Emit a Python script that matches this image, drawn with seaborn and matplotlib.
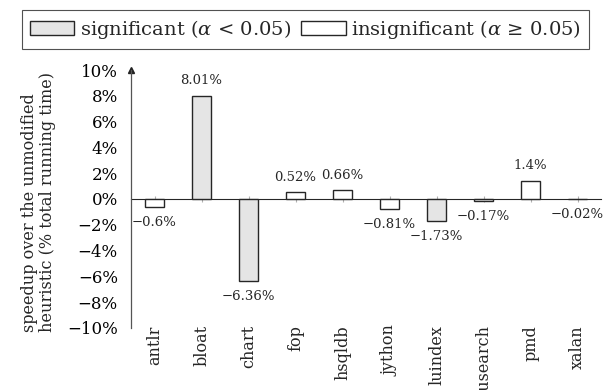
import matplotlib
matplotlib.use("Agg")
import matplotlib.pyplot as plt
import seaborn as sns
import pandas as pd

benchmarks = ["antlr", "bloat", "chart", "fop", "hsqldb", "jython", "luindex", "lusearch", "pmd", "xalan"]
speedups = [-0.6, 8.01, -6.36, 0.52, 0.66, -0.81, -1.73, -0.17, 1.4, -0.02]
value_labels = ["\u22120.6%", "8.01%", "\u22126.36%", "0.52%", "0.66%", "\u22120.81%", "\u22121.73%", "\u22120.17%", "1.4%", "\u22120.02%"]
significant = [False, True, True, False, False, False, True, False, False, False]
y_ticks = [-10, -8, -6, -4, -2, 0, 2, 4, 6, 8, 10]
y_tick_labels = ["\u221210%", "\u22128%", "\u22126%", "\u22124%", "\u22122%", "0%", "2%", "4%", "6%", "8%", "10%"]
sig_label = "significant ($\\alpha$ < 0.05)"
insig_label = "insignificant ($\\alpha$ \u2265 0.05)"

sns.set_style("white")
plt.rcParams["font.family"] = ["DejaVu Serif"]
plt.rcParams["mathtext.fontset"] = "dejavuserif"

df = pd.DataFrame({
    "bench": benchmarks,
    "speedup": speedups,
    "sig": [sig_label if s else insig_label for s in significant],
})

fig = plt.figure(figsize=(6.16, 3.9), dpi=100)
ax = fig.add_axes([0.2127, 0.159, 0.763, 0.6615])

sns.barplot(data=df, x="bench", y="speedup", hue="sig", dodge=False,
            hue_order=[sig_label, insig_label],
            palette={sig_label: "#e5e5e5", insig_label: "white"},
            edgecolor="#262626", linewidth=1.0, width=0.4, ax=ax, legend=True)

ax.set_xlim(-0.5, 9.5)
ax.set_ylim(-10, 10)
ax.set_yticks(y_ticks)
ax.set_yticklabels(y_tick_labels, fontsize=12)
ax.tick_params(axis="y", direction="inout", length=5, width=0.8, colors="#b0b0b0", labelcolor="black", pad=7)
ax.set_xticks(range(len(benchmarks)))
ax.set_xticklabels(benchmarks, rotation=90, fontsize=11.5)
ax.tick_params(axis="x", length=0, pad=-2)
ax.set_xlabel("")
ax.set_ylabel("speedup over the unmodified\nheuristic (% total running time)", fontsize=11.6,
              linespacing=1.05, multialignment="left")
ax.yaxis.set_label_coords(-0.16, 0.487)

for side in ["top", "right", "bottom"]:
    ax.spines[side].set_visible(False)
ax.spines["left"].set_color("#555555")
ax.spines["left"].set_linewidth(0.9)
ax.plot([0], [1], marker="^", markersize=4, color="#222222", transform=ax.transAxes, clip_on=False)

# zero axis line with ticks
sec = ax.secondary_xaxis(0.5)
sec.set_xticks(range(len(benchmarks)))
sec.set_xticklabels([])
sec.tick_params(direction="inout", length=5, width=0.8, colors="#b0b0b0")
sec.spines["bottom"].set_color("#262626")
sec.spines["bottom"].set_linewidth(1.0)

for i, (v, lab) in enumerate(zip(speedups, value_labels)):
    off = 11 if v >= 0 else -11
    ax.annotate(lab, (i, v), xytext=(0, off), textcoords="offset points",
                ha="center", va="center", fontsize=9.5)

handles, labels = ax.get_legend_handles_labels()
ax.legend_.remove()
leg = fig.legend(handles, labels, loc="upper center", bbox_to_anchor=(0.496, 0.974), ncol=2,
                 frameon=True, fancybox=False, edgecolor="#262626", fontsize=14,
                 handlelength=2.27, handleheight=0.67, handletextpad=0.3, columnspacing=0.55,
                 borderpad=0.4, borderaxespad=0)
leg.get_frame().set_linewidth(0.8)

fig.savefig("out.png", dpi=100)
